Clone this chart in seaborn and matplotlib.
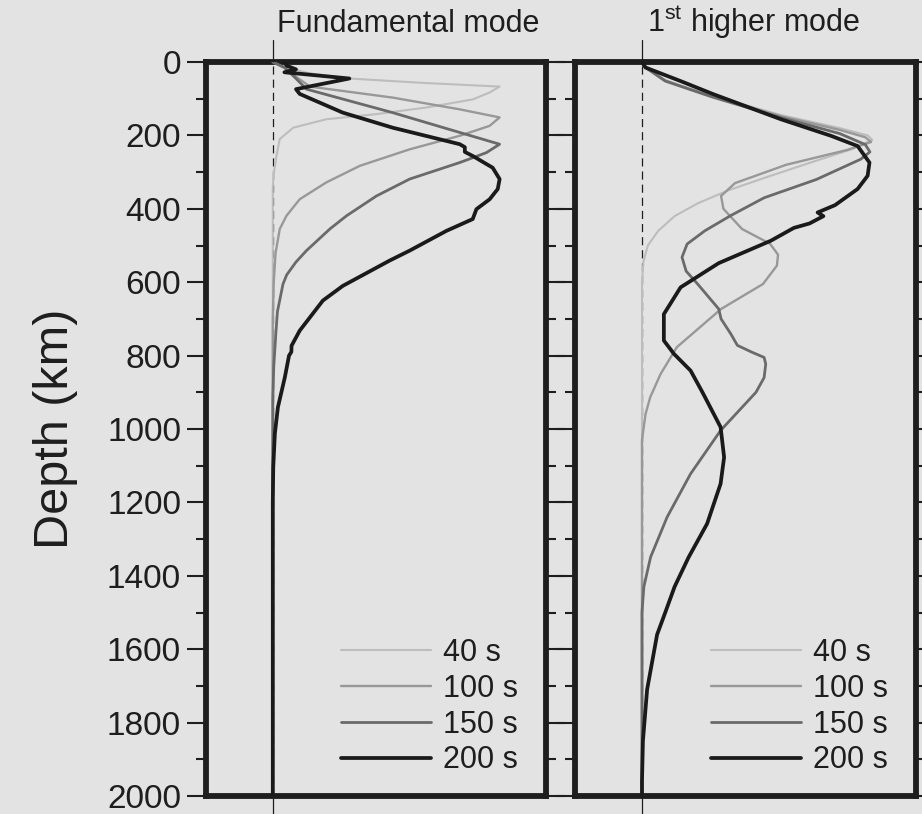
import matplotlib
matplotlib.use("Agg")
import matplotlib.pyplot as plt
import matplotlib.transforms as mtransforms
from matplotlib.lines import Line2D
import numpy as np
import pandas as pd
import seaborn as sns

# ---------------------------------------------------------------------------
# Depth sensitivity kernels (normalised amplitude vs depth in km)
# ---------------------------------------------------------------------------
periods = ["40 s", "100 s", "150 s", "200 s"]
line_colors = ["#bdbdbd", "#989898", "#6a6a6a", "#1a1a1a"]
line_widths = [1.5, 1.7, 2.0, 2.7]

# Fundamental mode
fund_40_depth = [0, 12, 30, 45, 57, 67, 83, 102, 124, 142, 156, 179, 210, 256, 300, 340, 2000]
fund_40_amp = [0, 0.05, 0.15, 0.33, 0.65, 0.978, 0.935, 0.862, 0.662, 0.447, 0.231, 0.088,
               0.030, 0.016, 0.005, 0, 0]

fund_100_depth = [0, 15, 40, 67, 97, 129, 151, 174, 201, 238, 283, 328, 374, 419, 455, 520,
                  600, 700, 2000]
fund_100_amp = [0, 0.05, 0.10, 0.16, 0.517, 0.806, 0.978, 0.935, 0.806, 0.59, 0.375, 0.231,
                0.116, 0.059, 0.03, 0.012, 0.004, 0, 0]

fund_150_depth = [0, 15, 45, 74, 138, 192, 224, 247, 274, 319, 365, 419, 455, 514, 545, 580,
                  605, 680, 741, 832, 920, 2000]
fund_150_amp = [0, 0.05, 0.10, 0.145, 0.517, 0.806, 0.978, 0.921, 0.806, 0.59, 0.447, 0.318,
                0.246, 0.145, 0.10, 0.06, 0.044, 0.02, 0.013, 0.004, 0, 0]

fund_200_depth = [0, 10, 20, 28, 45, 74, 87, 138, 179, 224, 232, 245, 256, 288, 319, 346, 374,
                  401, 428, 460, 514, 541, 610, 650, 732, 773, 790, 800, 859, 941, 1012, 1104,
                  1200, 2000]
fund_200_amp = [0.05, 0.06, 0.10, 0.05, 0.33, 0.10, 0.116, 0.302, 0.517, 0.806, 0.828, 0.828,
                0.862, 0.948, 0.978, 0.970, 0.935, 0.878, 0.862, 0.749, 0.59, 0.504, 0.302,
                0.216, 0.116, 0.081, 0.08, 0.07, 0.052, 0.022, 0.009, 0.002, 0, 0]

# First higher mode
high_40_depth = [0, 15, 50, 65, 92, 145, 180, 200, 212, 238, 275, 315, 350, 385, 420, 460,
                 500, 545, 600, 2000]
high_40_amp = [0, 0.015, 0.10, 0.17, 0.30, 0.60, 0.85, 0.97, 0.99, 0.90, 0.72, 0.53, 0.37,
               0.24, 0.14, 0.07, 0.025, 0.006, 0, 0]

high_100_depth = [0, 15, 50, 66, 93, 148, 185, 205, 218, 240, 280, 330, 365, 400, 455, 495,
                  525, 555, 605, 673, 777, 850, 914, 960, 1030, 2000]
high_100_amp = [0, 0.015, 0.10, 0.17, 0.30, 0.60, 0.85, 0.96, 0.985, 0.88, 0.62, 0.40, 0.34,
                0.35, 0.43, 0.55, 0.585, 0.58, 0.52, 0.34, 0.15, 0.08, 0.035, 0.015, 0, 0]

high_150_depth = [0, 15, 52, 67, 95, 152, 195, 225, 245, 265, 320, 370, 419, 460, 496, 532,
                  570, 604, 673, 700, 741, 772, 790, 805, 823, 860, 900, 1004, 1122, 1240,
                  1349, 1430, 1500, 2000]
high_150_amp = [0, 0.015, 0.10, 0.17, 0.30, 0.60, 0.85, 0.96, 0.98, 0.94, 0.75, 0.525, 0.38,
                0.27, 0.194, 0.172, 0.19, 0.238, 0.33, 0.34, 0.382, 0.41, 0.47, 0.525, 0.532,
                0.525, 0.49, 0.338, 0.209, 0.108, 0.037, 0.008, 0, 0]

high_200_depth = [0, 15, 52, 88, 156, 201, 229, 274, 310, 346, 390, 410, 420, 440, 452, 487,
                  548, 614, 687, 759, 795, 841, 900, 995, 1077, 1149, 1258, 1350, 1430, 1500,
                  1560, 1710, 1850, 1960, 2000]
high_200_amp = [0, 0.015, 0.166, 0.308, 0.597, 0.812, 0.927, 0.978, 0.97, 0.927, 0.83, 0.755,
                0.78, 0.72, 0.653, 0.554, 0.33, 0.166, 0.094, 0.094, 0.137, 0.209, 0.26,
                0.338, 0.353, 0.338, 0.28, 0.2, 0.14, 0.1, 0.065, 0.022, 0.004, 0, 0]

panel_titles = ["Fundamental mode", r"1$^{\mathrm{st}}$ higher mode"]
depth_ticks = list(range(0, 2001, 200))


def build_frame(depths, amps):
    rows = []
    for period, d, a in zip(periods, depths, amps):
        for di, ai in zip(d, a):
            rows.append({"period": period, "depth": di, "amp": ai})
    return pd.DataFrame(rows)


fund_df = build_frame([fund_40_depth, fund_100_depth, fund_150_depth, fund_200_depth],
                      [fund_40_amp, fund_100_amp, fund_150_amp, fund_200_amp])
high_df = build_frame([high_40_depth, high_100_depth, high_150_depth, high_200_depth],
                      [high_40_amp, high_100_amp, high_150_amp, high_200_amp])

# ---------------------------------------------------------------------------
# Figure styling
# ---------------------------------------------------------------------------
sns.set_theme(style="white")
plt.rcParams["font.family"] = ["Liberation Sans", "DejaVu Sans"]
plt.rcParams["mathtext.fontset"] = "custom"
plt.rcParams["mathtext.rm"] = "Liberation Sans"
plt.rcParams["mathtext.it"] = "Liberation Sans:italic"
plt.rcParams["mathtext.bf"] = "Liberation Sans:bold"

bg = "#e3e3e3"
ink = "#1e1e1e"

fig = plt.figure(figsize=(9.22, 8.14), dpi=100, facecolor=bg)
ax_left = fig.add_axes([206 / 922, 18 / 814, 340 / 922, 734 / 814])
ax_right = fig.add_axes([575 / 922, 18 / 814, 341 / 922, 734 / 814])

XLIM = (-0.288, 1.178)

for ax, df, title in [(ax_left, fund_df, panel_titles[0]), (ax_right, high_df, panel_titles[1])]:
    ax.set_facecolor(bg)
    # zero-amplitude reference line
    ax.axvline(0, color=ink, lw=0.9, ls=(0, (6.5, 4)), zorder=1)
    ax.plot([0, 0], [-60, 0], color=ink, lw=0.9, clip_on=False, zorder=1)
    ax.plot([0, 0], [2000, 2060], color=ink, lw=0.9, clip_on=False, zorder=1)

    for i, period in enumerate(periods):
        sub = df[df["period"] == period]
        sns.lineplot(data=sub, x="amp", y="depth", sort=False, estimator=None,
                     orient="y", color=line_colors[i], lw=line_widths[i], ax=ax,
                     zorder=2 + i, legend=False)

    ax.set_xlim(*XLIM)
    ax.set_ylim(2000, 0)
    ax.set_xticks([])
    ax.set_xlabel("")
    ax.set_ylabel("")
    ax.set_yticks(depth_ticks)
    ax.set_yticks(list(range(100, 2000, 200)), minor=True)
    ax.tick_params(axis="y", which="major", direction="out", length=14, width=1.5,
                   color=ink, left=True, right=True, labelsize=24, labelcolor=ink, pad=4)
    ax.tick_params(axis="y", which="minor", direction="out", length=7.5, width=1.5,
                   color=ink, left=True, right=True)
    for sp in ax.spines.values():
        sp.set_visible(True)
        sp.set_linewidth(4.2)
        sp.set_color(ink)

    trans = mtransforms.blended_transform_factory(ax.transData, ax.transAxes)
    ax.text(0.02, 1.041, title, transform=trans, ha="left", va="baseline",
            fontsize=22, color=ink)

    handles = [Line2D([], [], color=c, lw=w) for c, w in zip(line_colors, line_widths)]
    ax.legend(handles, periods, loc="lower right", bbox_to_anchor=(0.955, 0.0113),
              frameon=False, fontsize=22, handlelength=2.95, handletextpad=0.4,
              labelspacing=0.195, borderaxespad=0.0, labelcolor=ink)

ax_right.tick_params(axis="y", which="both", labelleft=False)
ax_left.set_ylabel("Depth (km)", fontsize=35, color=ink)
ax_left.yaxis.set_label_coords(-0.376, 0.5)

fig.savefig("out.png", dpi=100, facecolor=bg)
